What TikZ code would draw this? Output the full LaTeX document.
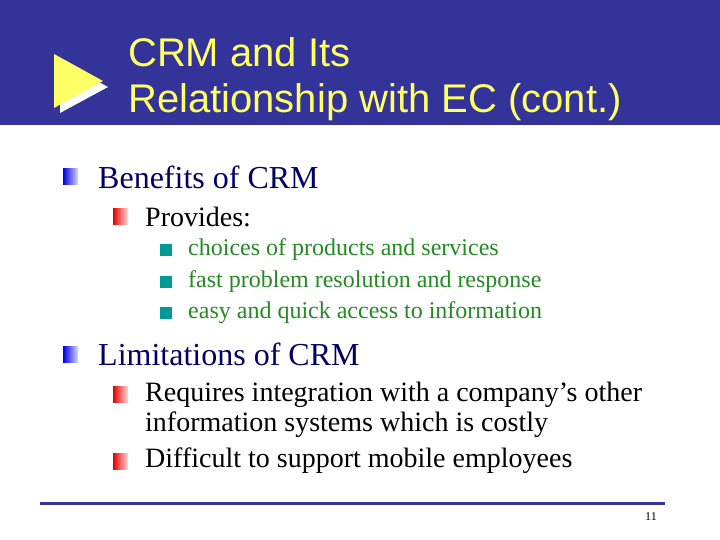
\documentclass[tikz,border=0pt]{standalone}
\usepackage{fontspec}
\setmainfont{Liberation Serif}
\newfontfamily\hfont{Liberation Sans}
\definecolor{band}{HTML}{333399}
\definecolor{ttl}{HTML}{FFFF66}
\definecolor{navy}{HTML}{000066}
\definecolor{grn}{HTML}{228B22}
\definecolor{teal}{HTML}{009999}
\tikzset{
  txt/.style={anchor=west,inner sep=0pt},
  ttlst/.style={txt,text=ttl,font=\hfont\fontsize{40}{44}\selectfont},
  l1/.style={txt,text=navy,font=\fontsize{32}{34}\selectfont},
  l2/.style={txt,text=black,font=\fontsize{28}{30}\selectfont},
  l3/.style={txt,text=grn,font=\fontsize{24}{26}\selectfont},
}
\newcommand{\bluebul}[1]{\shade[left color=blue!90!black,right color=blue!15] (#1) ++(-5,-8) rectangle ++(15,16);}
\newcommand{\redbul}[1]{\shade[left color=red!90!black,right color=red!15] (#1) ++(-5,-8) rectangle ++(15,16);}
\newcommand{\tealbul}[1]{\fill[teal] (#1) ++(-5,-6) rectangle ++(12,12);}
\begin{document}
\begin{tikzpicture}[x=1pt,y=-1pt]
\useasboundingbox (0,0) rectangle (720,540);
\fill[band] (0,0) rectangle (720,125);
\fill[white] (60,61) -- (60,113) -- (108,87) -- cycle;
\fill[ttl] (54,54) -- (54,108) -- (103,81) -- cycle;
\node[ttlst] (t1) at (128,52) {CRM and Its};
\node[ttlst] (t2) at (128,102) {Relationship with EC (cont.)};
\bluebul{68,177} \node[l1] (b1) at (98,177) {Benefits of CRM};
\redbul{118,217} \node[l2] (p) at (145,217) {Provides:};
\tealbul{165,250} \node[l3] (c1) at (188,250) {choices of products and services};
\tealbul{165,282} \node[l3] (c2) at (188,282) {fast problem resolution and response};
\tealbul{165,313} \node[l3] (c3) at (188,313) {easy and quick access to information};
\bluebul{68,354} \node[l1] (b2) at (98,354) {Limitations of CRM};
\redbul{118,394} \node[l2] (r1) at (145,395) {Requires integration with a company’s other};
\node[l2] (r1b) at (145,425) {information systems which is costly};
\redbul{118,461} \node[l2] (r2) at (145,461) {Difficult to support mobile employees};
\draw[band,line width=3pt] (40,503) -- (665,503);
\node[txt,font=\fontsize{12}{14}\selectfont] (pg) at (645,517) {11};
\end{tikzpicture}
\end{document}
